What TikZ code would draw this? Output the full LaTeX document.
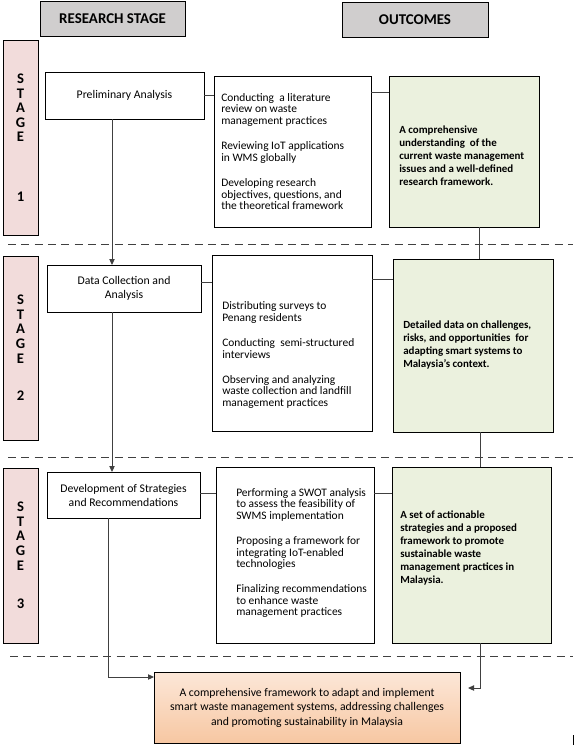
\documentclass[tikz,border=0pt]{standalone}
\usepackage{fontspec}
\setmainfont{Carlito}
\usepackage{tikz}
\usetikzlibrary{arrows.meta, positioning, calc}
\definecolor{headgrey}{RGB}{208, 206, 206}
\definecolor{stagepink}{RGB}{242, 220, 219}
\definecolor{outgreen}{RGB}{235, 241, 222}
\definecolor{finaltop}{RGB}{252, 231, 216}
\definecolor{finalbot}{RGB}{247, 199, 162}
\definecolor{linegrey}{RGB}{64, 64, 64}
\tikzset{
  sz/.style 2 args      = {minimum width=#1*0.75pt, minimum height=#2*0.75pt},
  base/.style           = {rectangle, draw=black, line width=0.75pt, anchor=north west, inner sep=0pt, outer sep=0pt},
  headbox/.style        = {base, fill=headgrey, font=\fontsize{11.2}{13}\selectfont\bfseries},
  stagebox/.style       = {base, fill=stagepink, align=center, font=\fontsize{11}{10.95}\selectfont\bfseries},
  stepbox/.style        = {base, fill=white, align=center, font=\fontsize{8.8}{10.5}\selectfont},
  taskbox/.style        = {base, fill=white},
  outbox/.style         = {base, fill=outgreen},
  finalbox/.style       = {base, top color=finaltop, bottom color=finalbot, align=center, font=\fontsize{8.8}{10.9}\selectfont},
  tasktext/.style       = {anchor=west, align=left, inner sep=0pt, font=\fontsize{8.6}{8.6}\selectfont},
  outtext/.style        = {anchor=west, align=left, inner sep=0pt, font=\fontsize{8.2}{9.75}\selectfont\bfseries},
  link/.style           = {draw=linegrey, line width=0.75pt},
  flow/.style           = {link, -{Triangle[length=4.5pt, width=4pt]}},
  sepline/.style        = {draw=linegrey, line width=0.75pt, dash pattern=on 6pt off 4pt},
}

\begin{document}
\begin{tikzpicture}[x=0.75pt, y=-0.75pt]
  \useasboundingbox (0,0) rectangle (582,746);

  % column headers
  \node[headbox, sz={145}{35}] (headstage) at (40,1) {RESEARCH STAGE};
  \node[headbox, sz={146}{35}] (headout) at (342,2) {OUTCOMES};

  % stage bars
  \node[stagebox, sz={35}{195}] (stage1) at (3,40) {S\\T\\A\\G\\E\\[33.6pt]1};
  \node[stagebox, sz={35}{184}] (stage2) at (3,256) {S\\T\\A\\G\\E\\[17.5pt]2};
  \node[stagebox, sz={35}{175}] (stage3) at (3,468) {S\\T\\A\\G\\E\\[18pt]3};

  % research steps
  \node[stepbox, sz={159}{47}] (prelim) at (45,72) {Preliminary Analysis};
  \node[stepbox, sz={154}{47}] (datacol) at (47,265) {Data Collection and\\Analysis};
  \node[stepbox, sz={153}{46}] (devstrat) at (47,472) {Development of Strategies\\and Recommendations};

  % tasks
  \node[taskbox, sz={157}{151}] (task1) at (214,76) {};
  \node[taskbox, sz={160}{176}] (task2) at (212,255) {};
  \node[taskbox, sz={158}{176}] (task3) at (216,467) {};
  \node[tasktext, xshift=5.25pt] (task1txt) at (task1.west)
    {Conducting\ \ a literature\\review on waste\\management practices\\[10.5pt]
     Reviewing IoT applications\\in WMS globally\\[10.5pt]
     Developing research\\objectives, questions, and\\the theoretical framework};
  \node[tasktext, xshift=7.5pt, yshift=-9pt] (task2txt) at (task2.west)
    {Distributing surveys to\\Penang residents\\[10.5pt]
     Conducting\ \ semi-structured\\interviews\\[10.5pt]
     Observing and analyzing\\waste collection and landfill\\management practices};
  \node[tasktext, xshift=15pt, yshift=1.5pt] (task3txt) at (task3.west)
    {Performing a SWOT analysis\\to assess the feasibility of\\SWMS implementation\\[10.5pt]
     Proposing a framework for\\integrating IoT-enabled\\technologies\\[10.5pt]
     Finalizing recommendations\\to enhance waste\\management practices};

  % outcomes
  \node[outbox, sz={150}{151}] (out1) at (389,76) {};
  \node[outbox, sz={160}{173}] (out2) at (393,259) {};
  \node[outbox, sz={159}{176}] (out3) at (392,467) {};
  \node[outtext, xshift=7.5pt, yshift=-3.4pt] (out1txt) at (out1.west)
    {A comprehensive\\understanding\ \ of the\\current waste management\\issues and a well-defined\\research framework.};
  \node[outtext, xshift=7.5pt] (out2txt) at (out2.west)
    {Detailed data on challenges,\\risks, and opportunities\ \ for\\adapting smart systems to\\Malaysia’s context.};
  \node[outtext, xshift=6pt, yshift=5pt] (out3txt) at (out3.west)
    {A set of actionable\\strategies and a proposed\\framework to promote\\sustainable waste\\management practices in\\Malaysia.};

  \node[finalbox, sz={306}{71}] (final) at (154,672)
    {A comprehensive framework to adapt and implement\\smart waste management systems, addressing challenges\\and promoting sustainability in Malaysia};

  % stage separators
  \draw[sepline] (8,244) -- (573,244);
  \draw[sepline] (8,457) -- (573,457);
  \draw[sepline] (10,656) -- (573,656);

  % connectors
  \draw[link] (prelim.east) -- (prelim.east -| task1.west);
  \draw[link] (task1.east |- 0,92) -- (out1.west |- 0,92);
  \draw[link] (datacol.east |- 0,282) -- (task2.west |- 0,282);
  \draw[link] (task2.east |- 0,279) -- (out2.west |- 0,279);
  \draw[link] (devstrat.east |- 0,493) -- (task3.west |- 0,493);
  \draw[link] (task3.east |- 0,493) -- (out3.west |- 0,493);
  \draw[link] (out1.south -| 479,0) -- (out2.north -| 479,0);
  \draw[link] (out2.south -| 480,0) -- (out3.north -| 480,0);

  \draw[flow] (prelim.south -| 112,0) -- (datacol.north -| 112,0);
  \draw[flow] (datacol.south -| 112,0) -- (devstrat.north -| 112,0);
  \draw[flow] (devstrat.south -| 108,0) |- (final.west |- 0,677);
  \draw[flow] (out3.south -| 480,0) |- ([xshift=6pt]final.east |- 0,688);

  \draw[line width=0.75pt] (573,735) -- (573,745);
\end{tikzpicture}
\end{document}
